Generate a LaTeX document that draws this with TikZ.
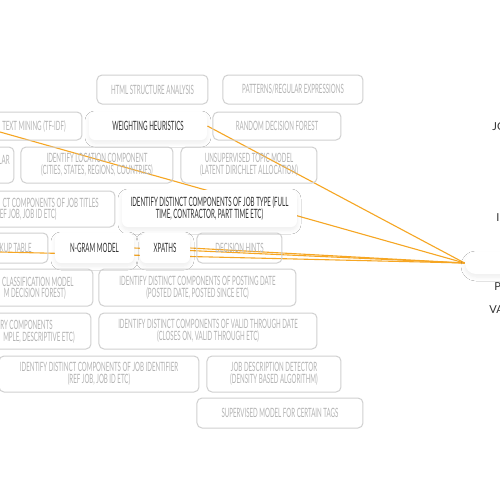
\documentclass[tikz,border=0pt]{standalone}
\usepackage{fontspec}
\setmainfont{Lato}
\newfontfamily\cond[FakeStretch=0.48]{Lato}
\usetikzlibrary{shadows,shadows.blur,backgrounds}
\definecolor{lineor}{HTML}{F6A623}
\definecolor{gtext}{HTML}{B4B4B4}
\definecolor{gline}{HTML}{D0D0D0}
\definecolor{dtext}{HTML}{333333}
\begin{document}
\begin{tikzpicture}[x=0.5pt,y=-0.5pt,
  font=\cond\fontsize{6.4}{6}\selectfont,
  gbox/.style={draw=gline, line width=0.5pt, rounded corners=2.5pt, text=gtext, align=center, inner sep=0pt},
  hbox/.style={fill=white, draw=none, rounded corners=3pt, text=dtext, align=center, inner sep=0pt,
    blur shadow={shadow xshift=0pt, shadow yshift=-1.5pt, shadow opacity=7, shadow blur radius=2pt, shadow blur steps=8}},
  frag/.style={text=gtext, inner sep=0pt, anchor=east},
  side/.style={text=dtext, font=\normalfont\fontsize{5.5}{6}\selectfont, anchor=west, inner sep=0pt},
  conn/.style={draw=lineor, line width=0.55pt}]
\useasboundingbox (0,0) rectangle (500,500);
\clip (0,0) rectangle (500,500);
% row 1
\node[gbox, minimum width=55.5pt, minimum height=14.5pt] (html) at (152.5,89.5) {HTML STRUCTURE ANALYSIS};
\node[gbox, minimum width=70pt, minimum height=14.5pt] (patterns) at (293,89.5) {PATTERNS/REGULAR EXPRESSIONS};
% row 2
\node[gbox, minimum width=48pt, minimum height=14pt] (textmining) at (34,126) {TEXT MINING (TF-IDF)};
\node[hbox, minimum width=59pt, minimum height=14pt] (weighting) at (148,126) {WEIGHTING HEURISTICS};
\node[gbox, minimum width=64pt, minimum height=14pt] (random) at (277,126) {RANDOM DECISION FOREST};
% row 3
\node[gbox, minimum width=57pt, minimum height=18pt] (lar) at (-43,165) {};
\node[frag] (larT) at (10,160) {LAR};
\node[gbox, minimum width=76pt, minimum height=18pt] (location) at (97,165) {IDENTIFY LOCATION COMPONENT\\(CITIES, STATES, REGIONS, COUNTRIES)};
\node[gbox, minimum width=68pt, minimum height=18pt] (topic) at (249,165) {UNSUPERVISED TOPIC MODEL\\(LATENT DIRICHLET ALLOCATION)};
% row 4
\node[gbox, minimum width=107.5pt, minimum height=18pt] (titles) at (7.5,209) {};
\node[frag] (titlesA) at (99,202.5) {CT COMPONENTS OF JOB TITLES};
\node[frag] (titlesB) at (57,214.5) {EF JOB, JOB ID ETC)};
\node[hbox, minimum width=87.5pt, minimum height=18.5pt] (jobtype) at (209.5,208.5) {IDENTIFY DISTINCT COMPONENTS OF JOB TYPE (FULL\\TIME, CONTRACTOR, PART TIME ETC)};
% row 5
\node[gbox, minimum width=74pt, minimum height=15pt] (lookup) at (-26,248) {};
\node[frag] (lookupT) at (32,248) {KUP TABLE};
\node[hbox, minimum width=39.5pt, minimum height=15pt] (ngram) at (94.5,248) {N-GRAM MODEL};
\node[hbox, minimum width=25pt, minimum height=15pt] (xpaths) at (165,248) {XPATHS};
\node[gbox, minimum width=42.5pt, minimum height=15pt] (hints) at (239.5,248) {DECISION HINTS};
% row 6
\node[gbox, minimum width=96.5pt, minimum height=18.5pt] (classif) at (-3.5,287.5) {};
\node[frag] (classifA) at (74,281.5) {CLASSIFICATION MODEL};
\node[frag] (classifB) at (66,293.5) {M DECISION FOREST)};
\node[gbox, minimum width=98.5pt, minimum height=18.5pt] (posting) at (197.5,287.5) {IDENTIFY DISTINCT COMPONENTS OF POSTING DATE\\(POSTED DATE, POSTED SINCE ETC)};
% row 7
\node[gbox, minimum width=95.5pt, minimum height=18pt] (salary) at (-4.5,331) {};
\node[frag] (salaryA) at (53,325) {RY COMPONENTS};
\node[frag] (salaryB) at (75,337) {MPLE, DESCRIPTIVE ETC)};
\node[gbox, minimum width=109pt, minimum height=18pt] (valid) at (208,331) {IDENTIFY DISTINCT COMPONENTS OF VALID THROUGH DATE\\(CLOSES ON, VALID THROUGH ETC)};
% row 8
\node[gbox, minimum width=100pt, minimum height=18pt] (identifier) at (99,374) {IDENTIFY DISTINCT COMPONENTS OF JOB IDENTIFIER\\(REF JOB, JOB ID ETC)};
\node[gbox, minimum width=67pt, minimum height=18pt] (detector) at (274,374) {JOB DESCRIPTION DETECTOR\\(DENSITY BASED ALGORITHM)};
% row 9
\node[gbox, minimum width=83pt, minimum height=15pt] (supervised) at (280,413) {SUPERVISED MODEL FOR CERTAIN TAGS};
% central
\node[hbox, rounded corners=5.5pt, minimum width=37.5pt, minimum height=11pt] (central) at (502.5,263) {};
% right-side labels
\node[side] (sJO) at (492,127) {JO};
\node[side] (sI) at (496,218) {I};
\node[side] (sP) at (494,287) {P};
\node[side] (sVA) at (489,310) {VA};
% free ends
\coordinate (tmEnd) at (0,132);
\coordinate (lkEnd) at (0,252);
\begin{scope}[on background layer]
\fill[white] (0,0) rectangle (500,500);
\draw[conn] (central.west) -- (weighting.east);
\draw[conn] (central.west) -- (tmEnd);
\draw[conn] (central.west) -- (ngram.east);
\draw[conn] (central.west) -- (xpaths.east);
\draw[conn] (central.west) -- (lkEnd);
\end{scope}
\end{tikzpicture}
\end{document}
